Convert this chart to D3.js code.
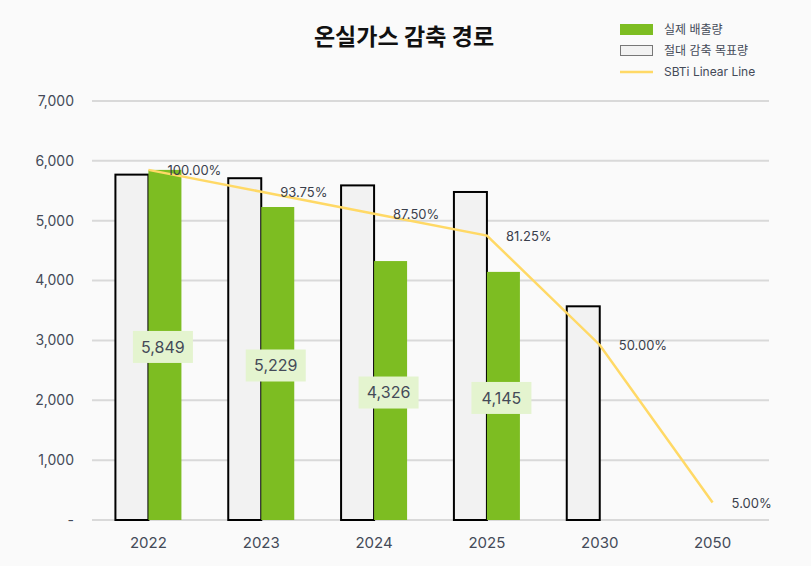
<!DOCTYPE html>
<html>
<head>
<meta charset="utf-8">
<script src="https://cdn.jsdelivr.net/npm/d3@7"></script>
<style>
  html, body { margin: 0; padding: 0; background: #fafafa; }
  svg { display: block; font-family: Inter, "Noto Sans CJK KR", "Noto Sans", sans-serif; }
</style>
</head>
<body>
<div id="chart"></div>
<script>
const years = ["2022", "2023", "2024", "2025", "2030", "2050"];
const actual = [5849, 5229, 4326, 4145, null, null];
const target = [5770, 5710, 5590, 5480, 3570, null];
const sbtiPct = [100, 93.75, 87.5, 81.25, 50, 5];
const yTicks = [0, 1000, 2000, 3000, 4000, 5000, 6000, 7000];
const baseYear = 5849;

const width = 811, height = 566;
const margin = { top: 101, bottom: 46, left: 92, right: 42 };
const innerW = width - margin.left - margin.right;
const innerH = height - margin.top - margin.bottom;

const svg = d3.select("#chart").append("svg")
  .attr("width", width)
  .attr("height", height);

svg.append("rect").attr("width", width).attr("height", height).attr("fill", "#fafafa");

const x = d3.scaleBand().domain(years).range([0, innerW]);
const y = d3.scaleLinear().domain([0, 7000]).range([innerH, 0]);
const barW = 33;

const g = svg.append("g").attr("transform", `translate(${margin.left},${margin.top})`);

// grid
g.append("g").selectAll("line").data(yTicks).enter().append("line")
  .attr("x1", 0).attr("x2", innerW)
  .attr("y1", d => y(d)).attr("y2", d => y(d))
  .attr("stroke", "#d9d9d9").attr("stroke-width", 2);

// y axis labels
g.append("g").selectAll("text").data(yTicks).enter().append("text")
  .attr("x", -18).attr("y", d => y(d))
  .attr("dy", "0.35em")
  .attr("text-anchor", "end")
  .attr("font-size", 14)
  .attr("fill", "#444a58")
  .text(d => d === 0 ? "-" : d3.format(",")(d));

// x axis labels
g.append("g").selectAll("text").data(years).enter().append("text")
  .attr("x", d => x(d) + x.bandwidth() / 2)
  .attr("y", innerH + 23)
  .attr("dy", "0.35em")
  .attr("text-anchor", "middle")
  .attr("font-size", 15)
  .attr("fill", "#444a58")
  .text(d => d);

const targetData = years.map((yr, i) => ({ yr, v: target[i] })).filter(d => d.v != null);
const actualData = years.map((yr, i) => ({ yr, v: actual[i] })).filter(d => d.v != null);

// target bars
g.append("g").selectAll("rect").data(targetData).enter().append("rect")
  .attr("x", d => x(d.yr) + x.bandwidth() / 2 - barW)
  .attr("y", d => y(d.v))
  .attr("width", barW)
  .attr("height", d => innerH - y(d.v))
  .attr("fill", "#f2f2f2")
  .attr("stroke", "#000")
  .attr("stroke-width", 2);

// actual bars
g.append("g").selectAll("rect").data(actualData).enter().append("rect")
  .attr("x", d => x(d.yr) + x.bandwidth() / 2)
  .attr("y", d => y(d.v))
  .attr("width", barW)
  .attr("height", d => innerH - y(d.v))
  .attr("fill", "#7dbd22");

// SBTi line
const lineData = years.map((yr, i) => ({ yr, p: sbtiPct[i], v: baseYear * sbtiPct[i] / 100 }));
const line = d3.line()
  .x(d => x(d.yr) + x.bandwidth() / 2)
  .y(d => y(d.v));
g.append("path").datum(lineData)
  .attr("d", line)
  .attr("fill", "none")
  .attr("stroke", "#ffd966")
  .attr("stroke-width", 2.5);

g.append("g").selectAll("text").data(lineData).enter().append("text")
  .attr("x", d => x(d.yr) + x.bandwidth() / 2 + 19)
  .attr("y", d => y(d.v) + 1)
  .attr("dy", "0.35em")
  .attr("font-size", 13)
  .attr("fill", "#3a3f4c")
  .text(d => d3.format(".2f")(d.p) + "%");

// value labels on actual bars
const lbl = g.append("g").selectAll("g").data(actualData).enter().append("g")
  .attr("transform", d => `translate(${x(d.yr) + x.bandwidth() / 2 + barW / 2 - 2},${y(d.v / 2) + 2})`);
lbl.append("rect")
  .attr("x", -30).attr("y", -16)
  .attr("width", 60).attr("height", 32)
  .attr("fill", "#e4f4cf");
lbl.append("text")
  .attr("text-anchor", "middle")
  .attr("dy", "0.35em")
  .attr("font-size", 16)
  .attr("fill", "#444a58")
  .text(d => d3.format(",")(d.v));

// title
svg.append("text")
  .attr("x", 404).attr("y", 37)
  .attr("dy", "0.35em")
  .attr("text-anchor", "middle")
  .attr("font-size", 23)
  .attr("font-weight", "bold")
  .attr("fill", "#111")
  .text("온실가스 감축 경로");

// legend
const legend = svg.append("g").attr("transform", "translate(620,24)");
legend.append("rect").attr("x", 0).attr("y", 0).attr("width", 33).attr("height", 11).attr("fill", "#7dbd22");
legend.append("text").attr("x", 44).attr("y", 5.5).attr("dy", "0.35em").attr("font-size", 12).attr("fill", "#444a58").text("실제 배출량");
legend.append("rect").attr("x", 0.5).attr("y", 21.5).attr("width", 32).attr("height", 10).attr("fill", "#f2f2f2").attr("stroke", "#777").attr("stroke-width", 1);
legend.append("text").attr("x", 44).attr("y", 26.5).attr("dy", "0.35em").attr("font-size", 12).attr("fill", "#444a58").text("절대 감축 목표량");
legend.append("line").attr("x1", 0).attr("x2", 33).attr("y1", 48).attr("y2", 48).attr("stroke", "#ffd966").attr("stroke-width", 2.5);
legend.append("text").attr("x", 44).attr("y", 48).attr("dy", "0.35em").attr("font-size", 12).attr("fill", "#444a58").text("SBTi Linear Line");
</script>
</body>
</html>
